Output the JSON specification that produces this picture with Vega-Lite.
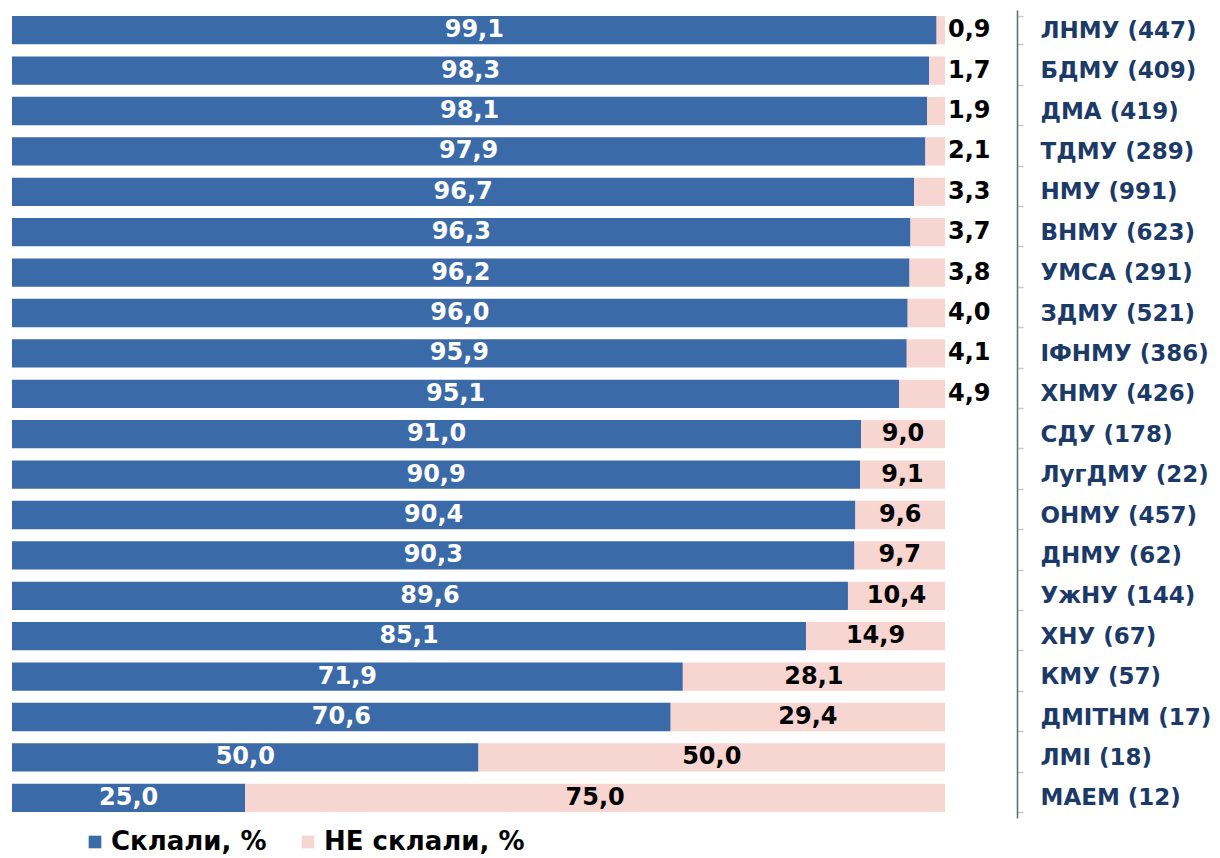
{
  "$schema": "https://vega.github.io/schema/vega-lite/v6.json",
  "width": 933,
  "height": 808,
  "autosize": {"type": "none"},
  "padding": {"left": 12, "top": 10, "right": 275, "bottom": 40},
  "background": "white",
  "config": {"view": {"stroke": null}, "font": "DejaVu Sans"},
  "data": {
    "values": [
      {"u": "ЛНМУ (447)", "pass": 99.1, "fail": 0.9},
      {"u": "БДМУ (409)", "pass": 98.3, "fail": 1.7},
      {"u": "ДМА (419)", "pass": 98.1, "fail": 1.9},
      {"u": "ТДМУ (289)", "pass": 97.9, "fail": 2.1},
      {"u": "НМУ (991)", "pass": 96.7, "fail": 3.3},
      {"u": "ВНМУ (623)", "pass": 96.3, "fail": 3.7},
      {"u": "УМСА (291)", "pass": 96.2, "fail": 3.8},
      {"u": "ЗДМУ (521)", "pass": 96.0, "fail": 4.0},
      {"u": "ІФНМУ (386)", "pass": 95.9, "fail": 4.1},
      {"u": "ХНМУ (426)", "pass": 95.1, "fail": 4.9},
      {"u": "СДУ (178)", "pass": 91.0, "fail": 9.0},
      {"u": "ЛугДМУ (22)", "pass": 90.9, "fail": 9.1},
      {"u": "ОНМУ (457)", "pass": 90.4, "fail": 9.6},
      {"u": "ДНМУ (62)", "pass": 90.3, "fail": 9.7},
      {"u": "УжНУ (144)", "pass": 89.6, "fail": 10.4},
      {"u": "ХНУ (67)", "pass": 85.1, "fail": 14.9},
      {"u": "КМУ (57)", "pass": 71.9, "fail": 28.1},
      {"u": "ДМІТНМ (17)", "pass": 70.6, "fail": 29.4},
      {"u": "ЛМІ (18)", "pass": 50.0, "fail": 50.0},
      {"u": "МАЕМ  (12)", "pass": 25.0, "fail": 75.0}
    ]
  },
  "transform": [
    {"fold": ["pass", "fail"], "as": ["key", "value"]},
    {"calculate": "datum.key == 'pass' ? 'Склали, %' : 'НЕ склали, %'", "as": "series"},
    {"calculate": "datum.key == 'pass' ? 0 : 1", "as": "ord"},
    {"calculate": "replace(format(datum.value, '.1f'), '.', ',')", "as": "label"},
    {"calculate": "datum.key == 'pass' ? datum.value / 2 : (datum.value < 5 ? 102.6 : 100 - datum.value / 2)", "as": "pos"}
  ],
  "encoding": {
    "y": {
      "field": "u",
      "type": "nominal",
      "sort": null,
      "scale": {"paddingInner": 0.3, "paddingOuter": 0.15},
      "axis": {
        "orient": "right",
        "offset": 72,
        "title": null,
        "domain": true,
        "domainColor": "#5b6577",
        "domainWidth": 1.5,
        "ticks": true,
        "tickBand": "extent",
        "tickColor": "#c8c8c8",
        "tickSize": 6,
        "tickWidth": 1.5,
        "labelPadding": 17,
        "labelFont": "DejaVu Sans",
        "labelFontWeight": "bold",
        "labelFontSize": 23,
        "labelColor": "#1c3a68",
        "labelLimit": 300
      }
    }
  },
  "layer": [
    {
      "mark": {"type": "bar"},
      "encoding": {
        "x": {"field": "value", "type": "quantitative", "stack": "zero", "scale": {"domain": [0, 100]}, "axis": null},
        "color": {
          "field": "series",
          "type": "nominal",
          "scale": {"domain": ["Склали, %", "НЕ склали, %"], "range": ["#3b6aa8", "#f7d6d1"]},
          "legend": {
            "orient": "none",
            "legendX": 70,
            "legendY": 819,
            "direction": "horizontal",
            "title": null,
            "symbolType": "square",
            "symbolSize": 160,
            "symbolStrokeWidth": 0,
            "labelFont": "DejaVu Sans",
            "labelFontSize": 26,
            "labelFontWeight": "bold",
            "labelColor": "#000000",
            "labelOffset": 3,
            "columnPadding": 28,
            "labelLimit": 400
          }
        },
        "order": {"field": "ord"}
      }
    },
    {
      "transform": [{"filter": "datum.key == 'pass'"}],
      "mark": {"type": "text", "color": "#ffffff", "fontWeight": "bold", "fontSize": 24, "baseline": "middle"},
      "encoding": {
        "x": {"field": "pos", "type": "quantitative"},
        "text": {"field": "label"}
      }
    },
    {
      "transform": [{"filter": "datum.key == 'fail'"}],
      "mark": {"type": "text", "color": "#000000", "fontWeight": "bold", "fontSize": 24, "baseline": "middle"},
      "encoding": {
        "x": {"field": "pos", "type": "quantitative"},
        "text": {"field": "label"}
      }
    }
  ]
}
